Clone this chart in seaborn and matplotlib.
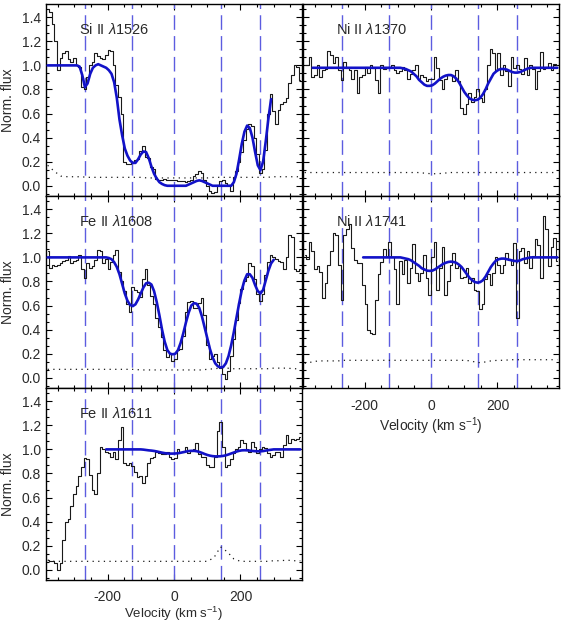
import numpy as np
import matplotlib
matplotlib.use("Agg")
import matplotlib.pyplot as plt
from matplotlib.ticker import MultipleLocator, AutoMinorLocator, FormatStrFormatter
import seaborn as sns

# velocity bins (km/s) and component positions
vel = np.arange(-380, 381, 8)
err_vel = np.arange(-380, 381, 20)
comp_vel = [-268, -125, 0, 140, 260]

# ---- Si II 1526 ----
si1526_flux = [1.47, 1.44, 1.34, 1.20, 0.96, 1.06, 1.10, 1.12, 1.05, 1.03,
               1.06, 1.00, 0.99, 0.82, 0.80, 0.90, 1.00, 1.03, 1.10, 1.08,
               1.06, 1.05, 1.09, 1.13, 1.12, 1.00, 0.84, 0.74, 0.60, 0.20,
               0.18, 0.18, 0.20, 0.21, 0.22, 0.29, 0.33, 0.24, 0.23, 0.16,
               0.14, 0.06, 0.05, 0.05, 0.06, 0.05, 0.05, 0.05, 0.05, 0.04,
               0.04, 0.04, 0.03, 0.04, 0.05, 0.08, 0.10, 0.12, 0.11, 0.05,
               0.00, -0.04, -0.06, -0.05, 0.01, 0.04, 0.05, 0.02, 0.01, -0.04,
               0.07, 0.12, 0.20, 0.28, 0.38, 0.47, 0.51, 0.50, 0.40, 0.26,
               0.11, 0.14, 0.30, 0.60, 0.76, 0.62, 0.51, 0.63, 0.68, 0.70,
               0.73, 0.85, 0.92, 1.00, 0.99, 0.88]
si1526_fit_start = -380
si1526_fit = [1.0, 1.0, 1.0, 1.0, 1.0, 1.0, 1.0, 1.0, 1.0, 1.0, 1.0, 1.0,
              0.99, 0.92, 0.82, 0.85, 0.93, 0.98, 1.00, 1.01, 1.00, 0.99,
              0.98, 0.96, 0.93, 0.86, 0.73, 0.55, 0.42, 0.31, 0.25, 0.21,
              0.19, 0.19, 0.22, 0.26, 0.285, 0.28, 0.23, 0.16, 0.10, 0.06,
              0.03, 0.015, 0.005, 0.0, 0.0, 0.0, 0.0, 0.0, 0.0, 0.0,
              0.0, 0.01, 0.02, 0.03, 0.04, 0.045, 0.04, 0.03, 0.02, 0.01,
              0.0, 0.0, 0.0, 0.0, 0.0, 0.0, 0.0, 0.0, 0.03, 0.10,
              0.22, 0.35, 0.45, 0.50, 0.48, 0.40, 0.28, 0.17, 0.13, 0.20,
              0.37, 0.56, 0.72]
si1526_err = [0.17, 0.12, 0.08, 0.075, 0.075, 0.075, 0.07, 0.07, 0.07, 0.07,
              0.07, 0.07, 0.07, 0.07, 0.07, 0.065, 0.065, 0.065, 0.065, 0.065,
              0.065, 0.065, 0.065, 0.065, 0.065, 0.07, 0.07, 0.07, 0.07, 0.07,
              0.07, 0.07, 0.07, 0.07, 0.075, 0.075, 0.075, 0.075, 0.075]

# ---- Ni II 1370 ----
ni1370_flux = [1.00, 1.00, 1.07, 0.90, 0.92, 1.00, 0.90, 0.96, 0.97, 1.12,
               1.09, 1.02, 1.07, 0.96, 0.88, 1.03, 0.98, 0.96, 0.89, 0.96,
               0.77, 0.90, 0.92, 0.99, 0.94, 1.00, 0.98, 0.88, 0.77, 1.00,
               0.97, 0.98, 0.99, 1.00, 0.96, 0.94, 0.95, 0.99, 0.96, 0.89,
               0.93, 0.96, 1.00, 0.89, 0.92, 0.90, 0.87, 0.89, 0.89, 1.07,
               0.98, 0.88, 0.80, 0.89, 0.92, 0.92, 0.87, 0.96, 0.87, 0.65,
               0.60, 0.68, 0.77, 0.70, 0.74, 0.80, 0.73, 0.70, 0.80, 1.00,
               1.14, 1.10, 0.96, 1.10, 0.92, 1.00, 0.95, 0.83, 1.07, 0.98,
               1.00, 0.97, 0.93, 1.06, 0.92, 1.00, 0.97, 0.80, 0.95, 1.11,
               0.97, 0.99, 1.02, 0.96, 1.01, 1.00]
ni1370_fit_start = -356
ni1370_fit = [0.98, 0.98, 0.98, 0.98, 0.98, 0.98, 0.98, 0.98, 0.98, 0.98,
              0.98, 0.98, 0.98, 0.98, 0.98, 0.98, 0.98, 0.98, 0.98, 0.98,
              0.98, 0.98, 0.98, 0.98, 0.98, 0.98, 0.98, 0.98, 0.98, 0.98,
              0.98, 0.98, 0.98, 0.98,
              0.975, 0.97, 0.96, 0.95, 0.93, 0.91, 0.88, 0.86, 0.84, 0.83,
              0.83, 0.835, 0.85, 0.87, 0.89, 0.905, 0.915, 0.92, 0.92, 0.91,
              0.89, 0.86, 0.82, 0.78, 0.75, 0.725, 0.715, 0.71, 0.715, 0.73,
              0.76, 0.80, 0.85, 0.89, 0.93, 0.95, 0.965, 0.97, 0.97, 0.965,
              0.955, 0.945, 0.94, 0.94, 0.945, 0.955, 0.965, 0.975,
              0.98, 0.98, 0.98, 0.98, 0.98, 0.98, 0.98, 0.98, 0.98, 0.98, 0.98]
ni1370_err = [0.11, 0.11, 0.11, 0.11, 0.11, 0.11, 0.11, 0.11, 0.11, 0.11,
              0.11, 0.11, 0.11, 0.11, 0.11, 0.11, 0.11, 0.11, 0.105, 0.10,
              0.10, 0.105, 0.11, 0.11, 0.11, 0.11, 0.11, 0.11, 0.11, 0.11,
              0.11, 0.11, 0.11, 0.11, 0.11, 0.11, 0.11, 0.11, 0.11]

# ---- Fe II 1608 ----
fe1608_flux = [1.05, 0.91, 0.94, 0.93, 0.94, 0.95, 0.97, 0.98, 1.01, 0.95,
               0.97, 0.98, 1.02, 0.90, 0.83, 0.95, 0.91, 0.93, 0.98, 1.06,
               1.05, 0.95, 0.99, 0.90, 0.96, 1.02, 1.06, 0.88, 0.80, 0.72,
               0.61, 0.55, 0.75, 0.73, 0.71, 0.67, 0.82, 0.90, 0.77, 0.68,
               0.61, 0.50, 0.42, 0.34, 0.23, 0.17, 0.20, 0.14, 0.16, 0.23,
               0.24, 0.35, 0.55, 0.63, 0.64, 0.58, 0.58, 0.62, 0.66, 0.52,
               0.27, 0.16, 0.18, 0.20, 0.13, 0.08, 0.03, -0.01, 0.06, 0.18,
               0.32, 0.48, 0.62, 0.74, 0.80, 0.84, 0.95, 0.93, 0.82, 0.70,
               0.64, 0.70, 0.85, 0.96, 1.02, 1.00, 0.99, 0.97, 0.96, 0.90,
               1.00, 1.19, 1.17, 0.90, 0.89, 0.90]
fe1608_fit_start = -380
fe1608_fit = [1.0, 1.0, 1.0, 1.0, 1.0, 1.0, 1.0, 1.0, 1.0, 1.0,
              1.0, 1.0, 1.0, 1.0, 1.0, 1.0, 1.0, 1.0, 1.0, 1.0,
              1.0, 1.0, 1.0,
              0.995, 0.985, 0.96, 0.92, 0.86, 0.78, 0.70, 0.64, 0.605, 0.595,
              0.61, 0.65, 0.70, 0.75, 0.785, 0.79, 0.775, 0.72, 0.63, 0.52,
              0.40, 0.30, 0.23, 0.20, 0.195, 0.20, 0.23, 0.29, 0.37, 0.46,
              0.54, 0.60, 0.62, 0.615, 0.58, 0.51, 0.42, 0.33, 0.24, 0.17,
              0.12, 0.095, 0.085, 0.09, 0.12, 0.18, 0.27, 0.38, 0.50, 0.62,
              0.73, 0.81, 0.86, 0.86, 0.83, 0.77, 0.72, 0.70, 0.73, 0.81,
              0.89, 0.95, 0.98]
fe1608_err = [0.07, 0.07, 0.07, 0.07, 0.07, 0.07, 0.07, 0.07, 0.07, 0.07,
              0.07, 0.07, 0.07, 0.07, 0.065, 0.065, 0.065, 0.065, 0.065, 0.065,
              0.065, 0.065, 0.065, 0.065, 0.07, 0.075, 0.08, 0.08, 0.075, 0.075,
              0.075, 0.075, 0.075, 0.075, 0.08, 0.08, 0.08, 0.075, 0.075]

# ---- Ni II 1741 ----
ni1741_flux = [1.02, 0.99, 1.13, 1.05, 0.90, 0.93, 0.88, 0.66, 0.79, 0.94,
               1.05, 1.20, 1.19, 0.94, 0.65, 1.19, 1.24, 1.28, 1.08, 0.98,
               0.95, 0.95, 0.77, 0.61, 0.40, 0.37, 0.36, 0.65, 0.86, 0.96,
               1.07, 1.00, 1.13, 1.00, 0.90, 0.61, 0.97, 0.86, 0.98, 0.79,
               0.91, 1.11, 0.87, 0.80, 0.87, 1.02, 0.83, 0.69, 1.00, 1.13,
               0.73, 0.91, 1.09, 0.69, 0.80, 0.94, 1.04, 0.91, 0.93, 0.83,
               0.84, 0.91, 0.79, 0.83, 0.73, 0.72, 0.57, 0.61, 0.82, 0.86,
               0.77, 0.87, 1.00, 0.94, 0.87, 0.94, 1.04, 0.98, 0.94, 1.12,
               0.50, 1.05, 1.08, 0.95, 1.05, 0.91, 1.01, 1.15, 1.10, 0.83,
               1.34, 1.24, 0.93, 1.09, 1.16, 0.97]
ni1741_fit_start = -204
ni1741_fit = [1.0, 1.0, 1.0, 1.0, 1.0, 1.0, 1.0, 1.0, 1.0, 1.0,
              1.0, 1.0, 1.0, 1.0, 1.0,
              0.995, 0.99, 0.985, 0.975, 0.96, 0.945, 0.93, 0.91, 0.90, 0.89,
              0.888, 0.89, 0.90, 0.915, 0.93, 0.945, 0.955, 0.962, 0.965, 0.962,
              0.955, 0.94, 0.92, 0.89, 0.86, 0.83, 0.81, 0.795, 0.79, 0.795,
              0.81, 0.84, 0.88, 0.92, 0.95, 0.975, 0.985, 0.99, 0.99, 0.985,
              0.98, 0.975, 0.97, 0.97, 0.975, 0.985, 0.99, 0.995,
              1.0, 1.0, 1.0, 1.0, 1.0, 1.0, 1.0, 1.0, 1.0, 1.0, 1.0]
ni1741_err = [0.12, 0.13, 0.14, 0.14, 0.14, 0.14, 0.145, 0.145, 0.145, 0.145,
              0.145, 0.145, 0.145, 0.145, 0.145, 0.145, 0.145, 0.145, 0.145, 0.145,
              0.145, 0.145, 0.145, 0.145, 0.145, 0.14, 0.125, 0.13, 0.14, 0.145,
              0.145, 0.15, 0.15, 0.15, 0.15, 0.15, 0.15, 0.15, 0.15]

# ---- Fe II 1611 ----
fe1611_flux = [0.08, 0.07, 0.07, 0.06, 0.00, 0.06, 0.25, 0.40, 0.42, 0.53,
               0.63, 0.70, 0.78, 0.85, 0.93, 0.92, 0.79, 0.66, 0.63, 0.80,
               1.02, 1.00, 0.98, 0.97, 0.94, 0.98, 0.92, 1.08, 1.19, 0.89,
               0.87, 0.89, 0.86, 0.81, 0.77, 0.78, 0.72, 0.78, 0.89, 0.93,
               0.94, 0.98, 0.97, 0.96, 0.96, 0.98, 0.94, 0.92, 0.93, 1.00,
               0.98, 0.98, 1.02, 0.97, 0.99, 1.00, 1.05, 0.96, 0.94, 0.94,
               0.87, 0.85, 0.85, 0.94, 1.15, 1.23, 1.02, 0.85, 0.87, 0.92,
               0.97, 1.00, 1.02, 1.08, 1.05, 1.00, 0.98, 1.06, 1.02, 0.97,
               1.00, 1.02, 1.01, 0.97, 0.94, 0.95, 0.98, 0.98, 0.94, 1.04,
               1.12, 1.05, 1.09, 1.08, 1.09, 1.10]
fe1611_fit_start = -204
fe1611_fit = [1.0, 1.0, 1.0, 1.0, 1.0, 1.0, 1.0, 1.0, 1.0, 1.0,
              1.0, 1.0, 1.0, 1.0,
              0.998, 0.995, 0.992, 0.99, 0.987, 0.983, 0.978, 0.973, 0.969, 0.966,
              0.965, 0.965, 0.966, 0.968, 0.972, 0.977, 0.982, 0.986, 0.988, 0.988,
              0.985, 0.979, 0.971, 0.962, 0.954, 0.948, 0.944, 0.942, 0.942, 0.943,
              0.946, 0.951, 0.958, 0.966, 0.974, 0.982, 0.988, 0.992, 0.993, 0.992,
              0.99, 0.987, 0.985, 0.984, 0.984, 0.986, 0.99, 0.994, 0.997,
              1.0, 1.0, 1.0, 1.0, 1.0, 1.0, 1.0, 1.0, 1.0, 1.0, 1.0]
fe1611_err = [0.08, 0.07, 0.07, 0.07, 0.07, 0.07, 0.07, 0.07, 0.07, 0.07,
              0.07, 0.07, 0.07, 0.07, 0.07, 0.07, 0.07, 0.07, 0.07, 0.07,
              0.07, 0.07, 0.07, 0.07, 0.07, 0.10, 0.19, 0.15, 0.09, 0.07,
              0.07, 0.07, 0.07, 0.07, 0.075, 0.075, 0.08, 0.075, 0.075]

panels = [
    ("Si II $\\lambda$1526", si1526_flux, si1526_fit_start, si1526_fit, si1526_err, 0, 0),
    ("Ni II $\\lambda$1370", ni1370_flux, ni1370_fit_start, ni1370_fit, ni1370_err, 0, 1),
    ("Fe II $\\lambda$1608", fe1608_flux, fe1608_fit_start, fe1608_fit, fe1608_err, 1, 0),
    ("Ni II $\\lambda$1741", ni1741_flux, ni1741_fit_start, ni1741_fit, ni1741_err, 1, 1),
    ("Fe II $\\lambda$1611", fe1611_flux, fe1611_fit_start, fe1611_fit, fe1611_err, 2, 0),
]

sns.set_style("ticks")
plt.rcParams["font.family"] = ["Liberation Sans", "DejaVu Sans"]
plt.rcParams["mathtext.fontset"] = "custom"
plt.rcParams["mathtext.rm"] = "Liberation Sans"
plt.rcParams["mathtext.it"] = "Liberation Sans:italic"
plt.rcParams["axes.unicode_minus"] = False
txt = "#2a2a2a"

W, H = 564, 623
fig = plt.figure(figsize=(W / 100, H / 100), dpi=100)
cols = [(46, 302), (303, 559)]
rows = [(4, 196), (196, 388), (388, 580)]

for name, flux, fstart, fit, err, r, c in panels:
    x0, x1 = cols[c]
    y0, y1 = rows[r]
    ax = fig.add_axes([x0 / W, 1 - y1 / H, (x1 - x0) / W, (y1 - y0) / H])

    for v in comp_vel:
        ax.axvline(v, color="#5c5ce0", lw=1.0, dashes=(10.5, 4.5), zorder=1)

    sns.lineplot(x=vel, y=flux, ax=ax, drawstyle="steps-mid",
                 color="#1a1a1a", lw=0.8, zorder=2)
    sns.lineplot(x=err_vel, y=err, ax=ax, color="#1a1a1a", lw=0.9,
                 linestyle=(0, (1, 3.5)), zorder=2)
    fv = vel[vel >= fstart][:len(fit)]
    sns.lineplot(x=fv, y=fit, ax=ax, color="#1212c8", lw=1.9, zorder=3)

    ax.set_xlim(-385, 385)
    ax.set_ylim(-0.085, 1.51)
    ax.xaxis.set_major_locator(MultipleLocator(200))
    ax.xaxis.set_minor_locator(MultipleLocator(50))
    ax.yaxis.set_major_locator(MultipleLocator(0.2))
    ax.yaxis.set_minor_locator(AutoMinorLocator(3))
    ax.tick_params(which="both", direction="in", top=True, right=True,
                   colors="black", labelcolor=txt, labelsize=10, width=0.8)
    ax.tick_params(which="major", length=4)
    ax.tick_params(which="minor", length=2.2)
    ax.tick_params(axis="x", pad=8)
    for s in ax.spines.values():
        s.set_linewidth(1.0)
        s.set_color("black")

    ax.text(0.13, 0.865, name, transform=ax.transAxes, ha="left", va="center",
            fontsize=10.5, color=txt)

    if c == 0:
        ax.yaxis.set_major_formatter(FormatStrFormatter("%.1f"))
        ax.set_ylabel("Norm. flux", fontsize=10, color=txt, labelpad=5)
    else:
        ax.set_yticklabels([])
        ax.set_ylabel("")
    if r == 1 and c == 1:
        ax.set_xlabel("Velocity (km s$^{-1}$)", fontsize=10, color=txt, labelpad=2)
    elif r == 2 and c == 0:
        # keep the label inside the bottom edge of the canvas
        ax.tick_params(axis="x", pad=7)
        ax.set_xlabel("Velocity (km s$^{-1}$)", fontsize=9.5, color=txt, labelpad=1)
    else:
        ax.set_xticklabels([])
        ax.set_xlabel("")

fig.savefig("out.png", dpi=100)
